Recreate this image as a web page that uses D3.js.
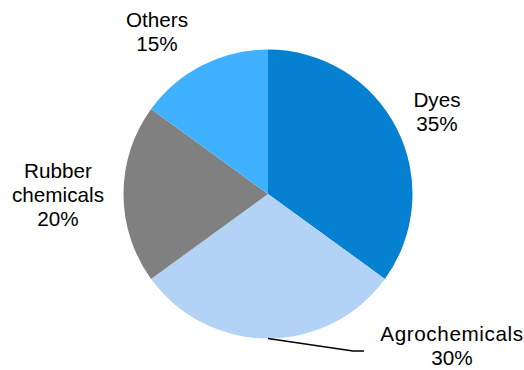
<!DOCTYPE html>
<html>
<head>
<meta charset="utf-8">
<script src="https://cdn.jsdelivr.net/npm/d3@7"></script>
<style>
  html, body { margin: 0; padding: 0; background: #fff; }
  svg { display: block; }
  text { font-family: "Liberation Sans", Arial, sans-serif; font-size: 20.7px; fill: #000; }
</style>
</head>
<body>
<svg id="chart" width="524" height="370"></svg>
<script>
// Market share by application segment
const categories = ["Dyes", "Agrochemicals", "Rubber chemicals", "Others"];
const shares = [35, 30, 20, 15];
const colors = ["#0680D1", "#B2D3F5", "#808080", "#40B1FF"];

// Label lines per slice, where each label block sits, and its tracking
const labelLines = [["Dyes"], ["Agrochemicals"], ["Rubber", "chemicals"], ["Others"]];
const labelPos = [[437, 107], [452, 341], [58, 178], [157, 27]];
const labelSpacing = [0, 0.6, 0, 0];

const width = 524, height = 370;
const cx = 268, cy = 194, radius = 144.5;
const lineH = 24;

const svg = d3.select("#chart");
const g = svg.append("g").attr("transform", `translate(${cx},${cy})`);

const data = categories.map((c, i) => ({
  name: c, value: shares[i], color: colors[i],
  lines: labelLines[i], pos: labelPos[i], spacing: labelSpacing[i]
}));

const pie = d3.pie().value(d => d.value).sort(null);
const arc = d3.arc().innerRadius(0).outerRadius(radius);
const arcs = pie(data);

g.selectAll("path.slice")
  .data(arcs)
  .join("path")
  .attr("class", "slice")
  .attr("d", arc)
  .attr("fill", d => d.data.color);

// Leader line for the Agrochemicals label
const agro = arcs[1];
const mid = (agro.startAngle + agro.endAngle) / 2;
const edge = [cx + radius * Math.sin(mid), cy - radius * Math.cos(mid)];
svg.append("polyline")
  .attr("points", [[edge[0], edge[1]], [353, 351], [364, 351]].map(p => p.join(",")).join(" "))
  .attr("fill", "none")
  .attr("stroke", "#000")
  .attr("stroke-width", 1.3);

// Category labels with percentages
const labels = svg.selectAll("text.label")
  .data(data)
  .join("text")
  .attr("class", "label")
  .attr("text-anchor", "middle");

labels.each(function(d) {
  const t = d3.select(this);
  d.lines.forEach((r, i) => {
    t.append("tspan")
      .attr("x", d.pos[0])
      .attr("y", d.pos[1] + i * lineH)
      .attr("letter-spacing", d.spacing)
      .text(r);
  });
  t.append("tspan")
    .attr("x", d.pos[0])
    .attr("y", d.pos[1] + d.lines.length * lineH)
    .text(d.value + "%");
});
</script>
</body>
</html>
